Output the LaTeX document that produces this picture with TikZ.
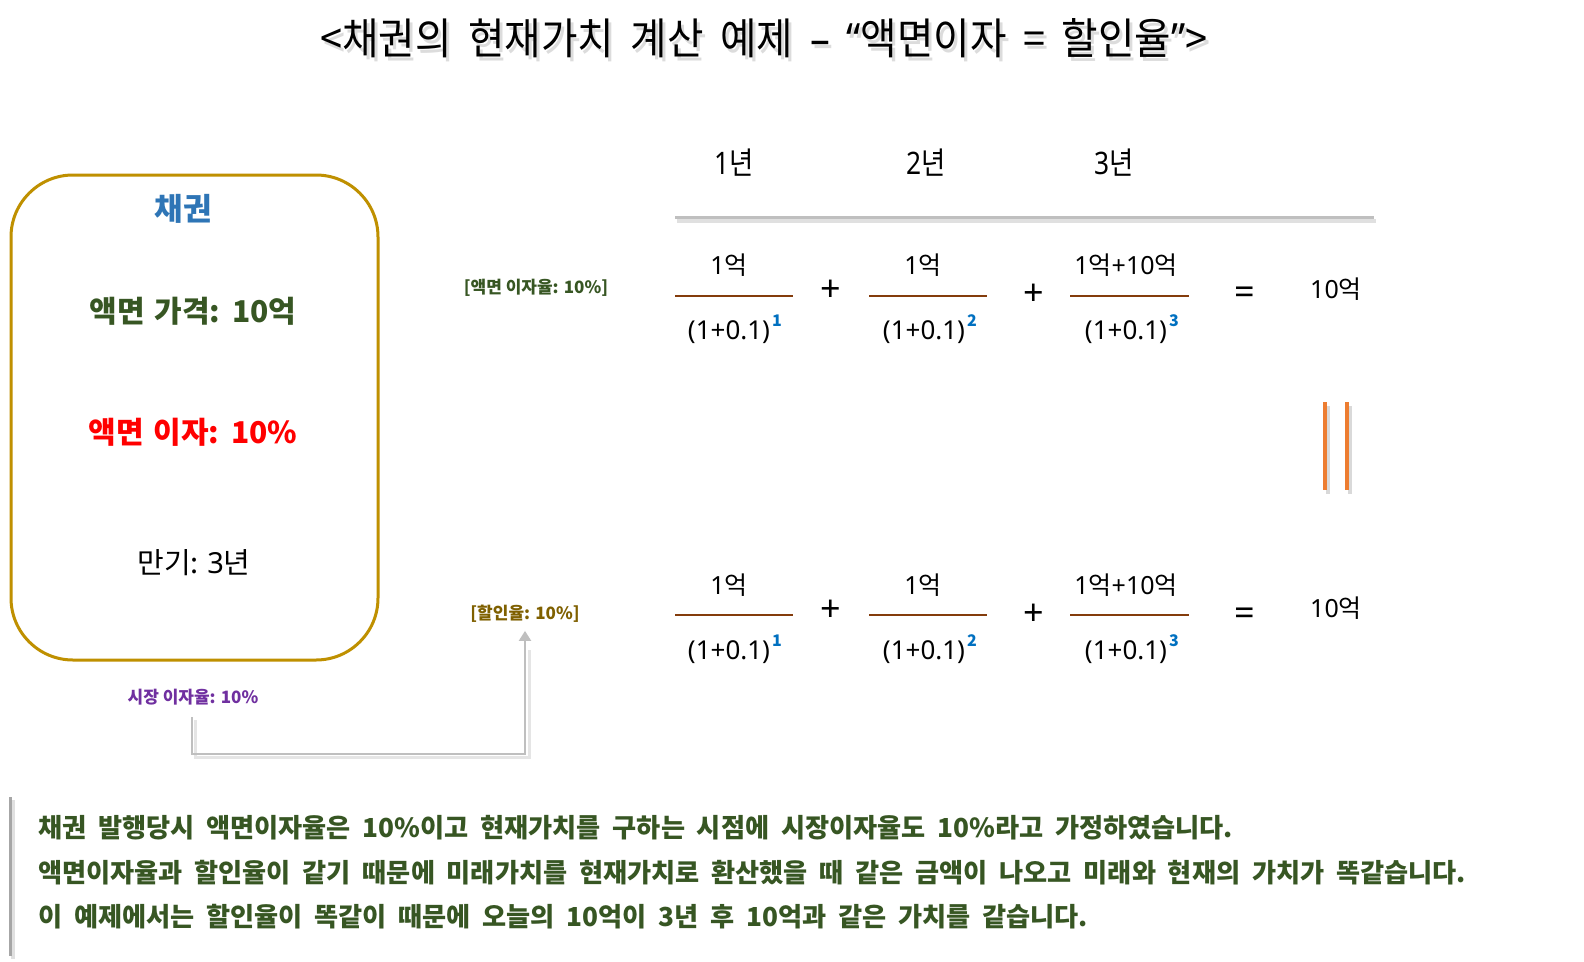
\documentclass[tikz,border=0pt]{standalone}
\usepackage{fontspec}
\setmainfont{Noto Sans CJK KR}
\newfontfamily\lat{Noto Sans}
\usetikzlibrary{arrows.meta}
\definecolor{boxgold}{HTML}{BF9000}
\definecolor{bondblue}{HTML}{2E75B6}
\definecolor{dgreen}{HTML}{375623}
\definecolor{purp}{HTML}{7030A0}
\definecolor{olivebrown}{HTML}{7F6000}
\definecolor{orng}{HTML}{ED7D31}
\definecolor{supblue}{HTML}{0070C0}
\definecolor{fracbrown}{HTML}{843C0C}
\definecolor{lgray}{HTML}{BFBFBF}
\definecolor{mgray}{HTML}{A6A6A6}
\newcommand{\fs}[1]{\fontsize{#1}{#1}\selectfont}
\newcommand{\wsp}{\spaceskip=0.45em\relax}
\newcommand{\bsp}{\spaceskip=0.32em\relax}
\newcommand{\dnm}[1]{{\lat(1+0.1)}\rlap{\raisebox{0.5em}{\fs{16}\bfseries\color{supblue}\kern2pt#1}}}
\newcommand{\titletext}{\resizebox{887pt}{36pt}{\fs{38}\spaceskip=0.42em\relax <채권의 현재가치 계산 예제 {\lat –} {\lat “}액면이자 = 할인율{\lat ”}>}}
\tikzset{
  txt/.style={inner sep=0pt, anchor=center},
  num/.style={txt, font=\fs{25}},
  den/.style={txt, font=\fs{26}},
  op/.style={txt, font=\fs{36}\lat},
  fracline/.style={draw=fracbrown, line width=2pt},
  year/.style={txt, font=\fs{31}},
  boxtxt/.style={txt, font=\fs{30}\bfseries},
  lbl/.style={txt, font=\fs{17}\bfseries},
  body/.style={inner sep=0pt, anchor=west, font=\fs{26.2}\bfseries, text=dgreen},
  shadowline/.style={draw=black!12, line width=4pt},
  conn/.style={draw=lgray, line width=2pt}
}
\begin{document}
\begin{tikzpicture}[x=1pt,y=-1pt]
\useasboundingbox[fill=white] (0,0) rectangle (1584,961);

% title
\node[txt, text=black!30, opacity=0.45] (titleshadow) at (767,42) {\titletext};
\node[txt] (title) at (764,38) {\titletext};

% bond box
\node[draw=boxgold, line width=3pt, rounded corners=62pt, minimum width=367pt, minimum height=485pt, inner sep=0pt] (bond) at (194.5,417.5) {};
\node[txt, font=\fs{31}\bfseries, text=bondblue] (bondtitle) at (183,209) {채권};
\node[boxtxt, text=dgreen] (face) at (193,311) {\bsp 액면 가격: 10억};
\node[boxtxt, text=red] (coupon) at (193,432) {\bsp 액면 이자: 10\%};
\node[txt, font=\fs{29}] (maturity) at (194,563) {만기: {\lat 3}년};

% years header
\node[year] (y1) at (734,163) {\scalebox{0.85}[1]{{\lat 1}년}};
\node[year] (y2) at (926,163) {\scalebox{0.85}[1]{{\lat 2}년}};
\node[year] (y3) at (1114,163) {\scalebox{0.85}[1]{{\lat 3}년}};
\draw[shadowline] (677,221) -- (1376,221);
\draw[draw=lgray, line width=3pt] (675,217) coordinate (hl) -- (1374,217) coordinate (hr);

% row 1
\node[lbl, text=dgreen] (lblcoupon) at (536,288) {[액면 이자율: 10\%]};
\node[num] (n11) at (729,265) {{\lat 1}억};
\draw[fracline] (675,296) -- (793,296);
\node[den] (d11) at (729,329) {\dnm{1}};
\node[op] (p11) at (831,291) {+};
\node[num] (n12) at (923,265) {{\lat 1}억};
\draw[fracline] (869,296) -- (987,296);
\node[den] (d12) at (924,329) {\dnm{2}};
\node[op] (p12) at (1034,295) {+};
\node[num] (n13) at (1126,265) {{\lat 1}억{\lat +10}억};
\draw[fracline] (1070,296) -- (1189,296);
\node[den] (d13) at (1126,329) {\dnm{3}};
\node[op] (e1) at (1245,296) {=};
\node[num] (r1) at (1336,289) {{\lat 10}억};

% vertical equals
\draw[draw=black!15, line width=4pt] (1328,406) -- (1328,494);
\draw[draw=black!15, line width=4pt] (1350,406) -- (1350,494);
\draw[draw=orng, line width=4pt] (1325,402) coordinate (ve1a) -- (1325,490) coordinate (ve1b);
\draw[draw=orng, line width=4pt] (1347,402) coordinate (ve2a) -- (1347,490) coordinate (ve2b);

% row 2
\node[lbl, text=olivebrown] (lbldisc) at (525,614) {[할인율: 10\%]};
\node[num] (n21) at (729,585) {{\lat 1}억};
\draw[fracline] (675,615) -- (793,615);
\node[den] (d21) at (729,649) {\dnm{1}};
\node[op] (p21) at (831,611) {+};
\node[num] (n22) at (923,585) {{\lat 1}억};
\draw[fracline] (869,615) -- (987,615);
\node[den] (d22) at (924,649) {\dnm{2}};
\node[op] (p22) at (1034,615) {+};
\node[num] (n23) at (1126,585) {{\lat 1}억{\lat +10}억};
\draw[fracline] (1070,615) -- (1189,615);
\node[den] (d23) at (1126,649) {\dnm{3}};
\node[op] (e2) at (1245,617) {=};
\node[num] (r2) at (1336,608) {{\lat 10}억};

% market rate and connector
\node[lbl, text=purp] (market) at (193,697) {시장 이자율: 10\%};
\coordinate (bend) at (192,754);
\draw[draw=black!10, line width=3pt] (195,720) -- (195,757) -- (529,757) -- (529,650);
\draw[conn, -{Triangle[width=12pt,length=10pt]}, shorten <=12pt, shorten >=8pt] (market.south -| bend) |- (bend -| lbldisc.south) -- (lbldisc.south);

% bottom note
\draw[draw=black!12, line width=4pt] (13,800) -- (13,959);
\draw[draw=mgray, line width=3pt] (10,797) coordinate (bt) -- (10,956) coordinate (bb);
\node[body] (line1) at (38,828) {\wsp 채권 발행당시 액면이자율은 10\%이고 현재가치를 구하는 시점에 시장이자율도 10\%라고 가정하였습니다.};
\node[body] (line2) at (38,873) {\wsp 액면이자율과 할인율이 같기 때문에 미래가치를 현재가치로 환산했을 때 같은 금액이 나오고 미래와 현재의 가치가 똑같습니다.};
\node[body] (line3) at (38,917) {\wsp 이 예제에서는 할인율이 똑같이 때문에 오늘의 10억이 3년 후 10억과 같은 가치를 같습니다.};
\end{tikzpicture}
\end{document}
